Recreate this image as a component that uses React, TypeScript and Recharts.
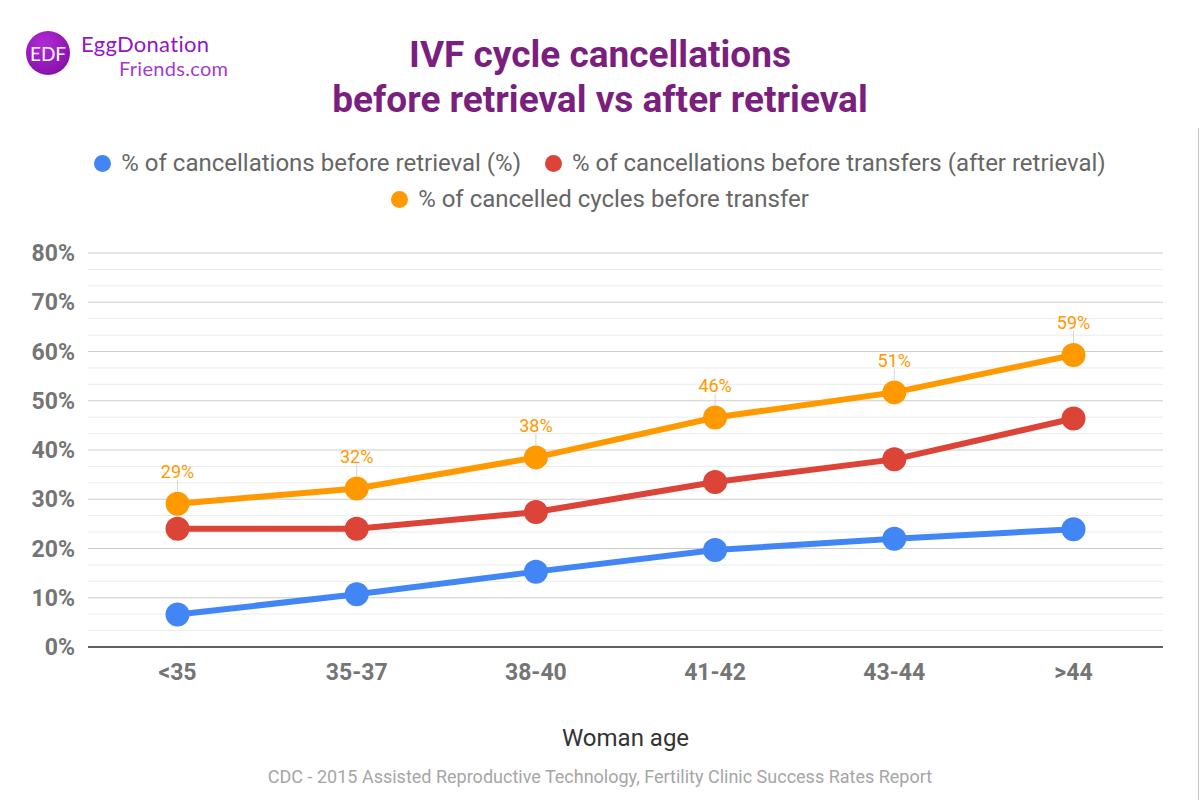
import * as React from 'react';
import { LineChart, XAxis, YAxis, Line, CartesianGrid, ReferenceLine, LabelList } from 'recharts';

const ages = ['<35', '35-37', '38-40', '41-42', '43-44', '>44'];
const beforeRetrieval = [6.6, 10.7, 15.3, 19.7, 22.0, 23.9];
const beforeTransfers = [24.0, 24.0, 27.4, 33.5, 38.1, 46.4];
const cancelledCycles = [29.1, 32.2, 38.5, 46.6, 51.7, 59.3];
const yTicks = [0, 10, 20, 30, 40, 50, 60, 70, 80];

const seriesNames = [
  '% of cancellations before retrieval (%)',
  '% of cancellations before transfers (after retrieval)',
  '% of cancelled cycles before transfer',
];
const BLUE = '#4285f4';
const RED = '#db4437';
const ORANGE = '#ff9900';

const data = ages.map((age, i) => ({
  age,
  a: beforeRetrieval[i],
  b: beforeTransfers[i],
  c: cancelledCycles[i],
}));

// two light lines between every pair of major gridlines
const minorTicks = yTicks.slice(0, -1).flatMap(t => [t + 10 / 3, t + 20 / 3]);

function PointLabel(props: any) {
  const { x, y, value } = props;
  if (x == null || y == null) return null;
  return <g>
    <line x1={x} x2={x} y1={y - 24} y2={y - 12} stroke="#d6d6d6" strokeWidth={1} />
    <text x={x} y={y - 32} textAnchor="middle" dominantBaseline="central" fill={ORANGE}
      fontSize={18} fontFamily="Roboto">{Math.floor(value)}%</text>
  </g>;
}

function LegendItem({ color, text }: { color: string, text: string }) {
  return <span style={{ display: 'inline-flex', alignItems: 'center', margin: '0 12px' }}>
    <span style={{ width: 17, height: 17, borderRadius: '50%', background: color, marginRight: 10 }} />
    <span>{text}</span>
  </span>;
}

export default function App() {
  return <div style={{ position: 'absolute', left: 0, top: 0, width: 1200, height: 800, background: '#fff', fontFamily: 'Roboto', overflow: 'hidden' }}>
    {/* logo */}
    <div style={{ position: 'absolute', left: 26, top: 31, width: 44, height: 44, borderRadius: '50%',
      background: 'radial-gradient(circle at 40% 30%, #b02ad8, #7c0a9c)', color: '#fff',
      display: 'flex', alignItems: 'center', justifyContent: 'center', fontSize: 19, fontFamily: 'Lato' }}>EDF</div>
    <div style={{ position: 'absolute', left: 81, top: 34, fontSize: 22, color: '#9317c0', fontFamily: 'Lato', lineHeight: '20px', letterSpacing: 0.3 }}>EggDonation</div>
    <div style={{ position: 'absolute', left: 119, top: 58, fontSize: 20, color: '#a23ccc', fontFamily: 'Lato', lineHeight: '20px', letterSpacing: 0.3 }}>Friends.com</div>

    {/* title */}
    <div style={{ position: 'absolute', left: 0, top: 32, width: 1200, textAlign: 'center', color: '#7b1f7e',
      fontWeight: 'bold', fontSize: 37, lineHeight: '45px' }}>
      IVF cycle cancellations<br />before retrieval vs after retrieval
    </div>

    {/* legend */}
    <div style={{ position: 'absolute', left: 0, top: 146, width: 1200, textAlign: 'center', color: '#666', fontSize: 24, lineHeight: '35px' }}>
      <div><LegendItem color={BLUE} text={seriesNames[0]} /><LegendItem color={RED} text={seriesNames[1]} /></div>
      <div><LegendItem color={ORANGE} text={seriesNames[2]} /></div>
    </div>

    <div style={{ position: 'absolute', left: 1198, top: 128, width: 1, height: 672, background: '#c4c4c4' }} />

    <div style={{ position: 'absolute', left: 0, top: 0 }}>
      <LineChart width={1200} height={800} data={data} margin={{ top: 253, right: 37, bottom: 123, left: 0 }}>
        <CartesianGrid vertical={false} stroke="#cccccc" />
        {minorTicks.map(t => <ReferenceLine key={t} y={t} stroke="#ebebeb" strokeWidth={1} />)}
        <XAxis dataKey="age" tickLine={false} axisLine={{ stroke: '#333', strokeWidth: 1.5 }} tickMargin={11}
          padding={{ left: 89.5, right: 89.5 }}
          tick={{ fill: '#757575', fontSize: 23, fontWeight: 'bold', fontFamily: 'Roboto' }} interval={0} />
        <YAxis width={88} domain={[0, 80]} ticks={yTicks} tickLine={false} axisLine={false} tickMargin={7}
          tickFormatter={v => v + '%'} tick={{ fill: '#757575', fontSize: 23, fontWeight: 'bold', fontFamily: 'Roboto' }} />
        <Line dataKey="a" stroke={BLUE} strokeWidth={6} dot={{ r: 12, fill: BLUE, stroke: BLUE, strokeWidth: 0 }}
          activeDot={false} isAnimationActive={false} />
        <Line dataKey="b" stroke={RED} strokeWidth={6} dot={{ r: 12, fill: RED, stroke: RED, strokeWidth: 0 }}
          activeDot={false} isAnimationActive={false} />
        <Line dataKey="c" stroke={ORANGE} strokeWidth={6} dot={{ r: 12, fill: ORANGE, stroke: ORANGE, strokeWidth: 0 }}
          activeDot={false} isAnimationActive={false}>
          <LabelList dataKey="c" content={<PointLabel />} />
        </Line>
      </LineChart>
    </div>

    {/* axis title is centred on the plot area, not the page */}
    <div style={{ position: 'absolute', left: 88, top: 724, width: 1075, textAlign: 'center', color: '#333', fontSize: 24 }}>Woman age</div>
    <div style={{ position: 'absolute', left: 0, top: 766, width: 1200, textAlign: 'center', color: '#a6a6a6', fontSize: 18 }}>
      CDC - 2015 Assisted Reproductive Technology, Fertility Clinic Success Rates Report
    </div>
  </div>;
}
